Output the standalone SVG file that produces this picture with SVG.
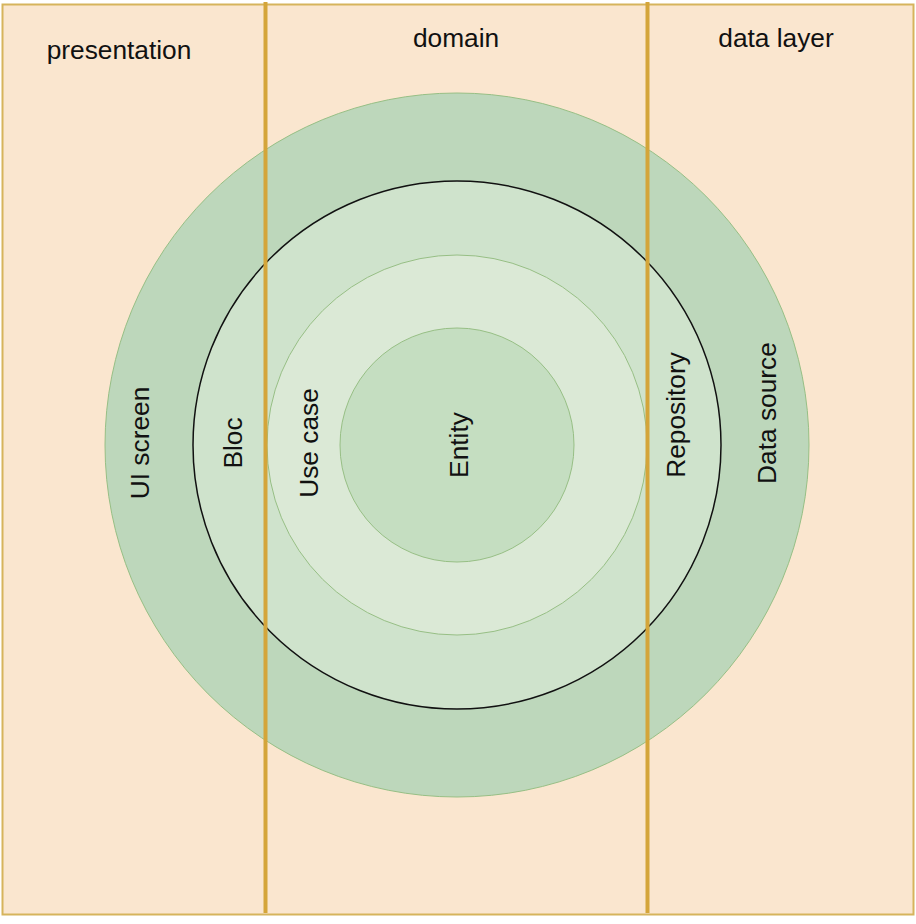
<svg xmlns="http://www.w3.org/2000/svg" width="916" height="924" viewBox="0 0 916 924">
<style>
text{font-family:"Liberation Sans",Arial,sans-serif;font-size:26.3px;fill:#111;text-anchor:middle;dominant-baseline:central}
.ring{stroke:#97bf85;stroke-width:1}
.sep{stroke:#d4a53a;stroke-width:4}
</style>
<rect id="frame" x="2.5" y="4.5" width="911" height="910" fill="#fae6cf" stroke="#d6b45c" stroke-width="2"/>
<g id="outer"><circle class="ring" cx="457" cy="445" r="352" fill="#bdd7bb"/></g>
<g id="bloc-ring"><circle cx="457" cy="445" r="264" fill="#cfe3cc" stroke="#111" stroke-width="1.5"/></g>
<g id="usecase-ring"><circle class="ring" cx="457" cy="445" r="190" fill="#dbe9d6"/></g>
<g id="entity"><circle class="ring" cx="457" cy="445" r="117" fill="#c5dec1"/></g>
<g id="separators">
<line class="sep" x1="265.5" y1="2" x2="265.5" y2="913"/>
<line class="sep" x1="647.5" y1="2" x2="647.5" y2="913"/>
</g>
<g id="labels">
<text x="119" y="50">presentation</text>
<text x="456" y="38">domain</text>
<text x="776" y="38">data layer</text>
<text transform="translate(140,443) rotate(-90)">UI screen</text>
<text transform="translate(233,443) rotate(-90)">Bloc</text>
<text transform="translate(309,443) rotate(-90)">Use case</text>
<text transform="translate(459,445) rotate(-90)">Entity</text>
<text transform="translate(676,415) rotate(-90)">Repository</text>
<text transform="translate(767,413) rotate(-90)">Data source</text>
</g>
</svg>
